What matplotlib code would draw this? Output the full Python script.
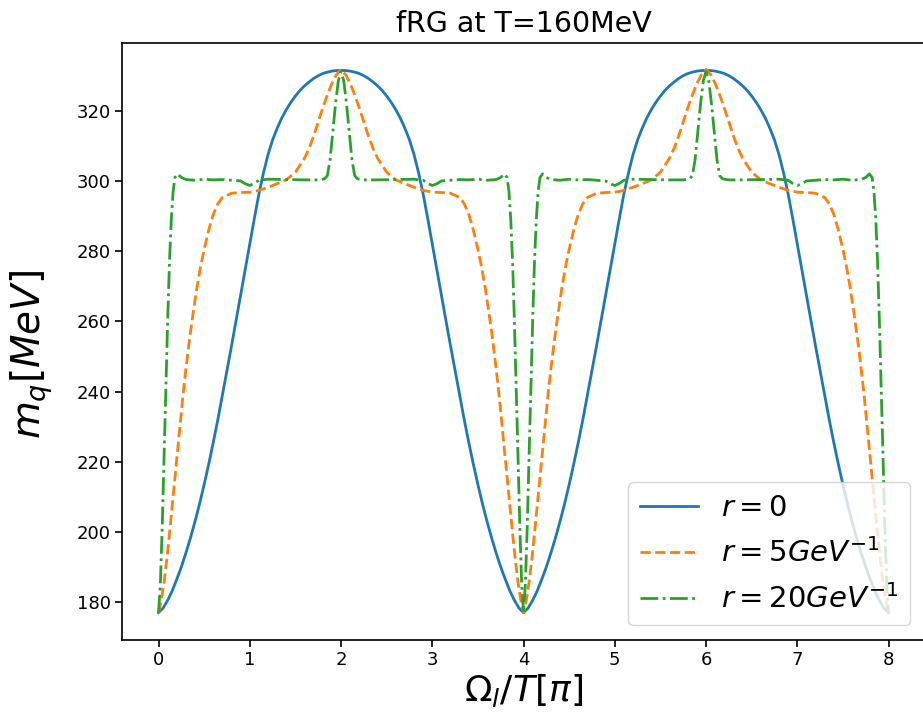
import matplotlib
matplotlib.use('Agg')
import numpy as np
import matplotlib.pyplot as plt

# ---- data ----
# r = 0, sampled every 0.05 on [0, 8]
blue_x = np.linspace(0, 8, 161)
blue_y = [177.0, 178.3, 180.5, 183.2, 186.5, 190.0, 194.0, 198.3, 203.0, 208.0,
          213.5, 219.3, 225.5, 232.0, 239.0, 246.0, 253.0, 260.2, 267.5, 274.8,
          282.0, 289.3, 296.3, 302.3, 307.5, 311.7, 315.0, 317.9, 320.3, 322.4,
          324.2, 325.8, 327.1, 328.2, 329.2, 330.0, 330.6, 331.0, 331.3, 331.45,
          331.5,
          331.45, 331.3, 331.0, 330.6, 330.0, 329.2, 328.2, 327.1, 325.8, 324.2,
          322.4, 320.3, 317.9, 315.0, 311.7, 307.5, 302.3, 296.3, 289.3, 282.0,
          274.8, 267.5, 260.2, 253.0, 246.0, 239.0, 232.0, 225.5, 219.3, 213.5,
          208.0, 203.0, 198.3, 194.0, 190.0, 186.5, 183.2, 180.5, 178.3, 177.0,
          178.3, 180.5, 183.2, 186.5, 190.0, 194.0, 198.3, 203.0, 208.0, 213.5,
          219.3, 225.5, 232.0, 239.0, 246.0, 253.0, 260.2, 267.5, 274.8, 282.0,
          289.3, 296.3, 302.3, 307.5, 311.7, 315.0, 317.9, 320.3, 322.4, 324.2,
          325.8, 327.1, 328.2, 329.2, 330.0, 330.6, 331.0, 331.3, 331.45, 331.5,
          331.45, 331.3, 331.0, 330.6, 330.0, 329.2, 328.2, 327.1, 325.8, 324.2,
          322.4, 320.3, 317.9, 315.0, 311.7, 307.5, 302.3, 296.3, 289.3, 282.0,
          274.8, 267.5, 260.2, 253.0, 246.0, 239.0, 232.0, 225.5, 219.3, 213.5,
          208.0, 203.0, 198.3, 194.0, 190.0, 186.5, 183.2, 180.5, 178.3, 177.0]

# r = 5 GeV^-1
orange_x = [0.0, 0.03, 0.06, 0.09, 0.12, 0.15, 0.18, 0.21, 0.24, 0.27, 0.3, 0.34,
            0.38, 0.42, 0.46, 0.5, 0.55, 0.6, 0.65, 0.7, 0.8, 0.9, 1.0, 1.1, 1.2,
            1.3, 1.4, 1.5, 1.6, 1.65, 1.7, 1.75, 1.8, 1.85, 1.9, 1.95, 2.0,
            2.05, 2.1, 2.15, 2.2, 2.25, 2.3, 2.35, 2.4, 2.5, 2.6, 2.7, 2.8, 2.9,
            3.0, 3.1, 3.2, 3.3, 3.35, 3.4, 3.45, 3.5, 3.54, 3.58, 3.62, 3.66, 3.7,
            3.73, 3.76, 3.79, 3.82, 3.85, 3.88, 3.91, 3.94, 3.97, 4.0,
            4.03, 4.06, 4.09, 4.12, 4.15, 4.18, 4.21, 4.24, 4.27, 4.3, 4.34, 4.38,
            4.42, 4.46, 4.5, 4.55, 4.6, 4.65, 4.7, 4.8, 4.9, 5.0, 5.1, 5.2, 5.3,
            5.4, 5.5, 5.6, 5.65, 5.7, 5.75, 5.8, 5.85, 5.9, 5.95, 6.0,
            6.05, 6.1, 6.15, 6.2, 6.25, 6.3, 6.35, 6.4, 6.5, 6.6, 6.7, 6.8, 6.9,
            7.0, 7.1, 7.2, 7.3, 7.35, 7.4, 7.45, 7.5, 7.54, 7.58, 7.62, 7.66, 7.7,
            7.73, 7.76, 7.79, 7.82, 7.85, 7.88, 7.91, 7.94, 7.97, 8.0]
orange_y = [177, 180.5, 185.5, 192, 199.5, 207.5, 215.5, 223.5, 231.5, 239.5, 246.5,
            255, 262.5, 269.5, 275.5, 280.5, 286, 290.5, 293.5, 295.3, 296.5, 296.7,
            296.8, 297.3, 298.2, 299.2, 300.3, 302.5, 306.5, 309.3, 312.8, 316.8,
            320.8, 324.5, 327.8, 330.3, 331.8,
            330.3, 327.8, 324.5, 320.8, 316.8, 312.8, 309.3, 306.5, 302.5, 300.3,
            299.2, 298.2, 297.3, 296.8, 296.7, 296.5, 295.3, 293.5, 290.5, 286,
            280.5, 275.5, 269.5, 262.5, 255, 246.5, 239.5, 231.5, 223.5, 215.5,
            207.5, 199.5, 192, 185.5, 180.5, 177,
            180.5, 185.5, 192, 199.5, 207.5, 215.5, 223.5, 231.5, 239.5, 246.5,
            255, 262.5, 269.5, 275.5, 280.5, 286, 290.5, 293.5, 295.3, 296.5, 296.7,
            296.8, 297.3, 298.2, 299.2, 300.3, 302.5, 306.5, 309.3, 312.8, 316.8,
            320.8, 324.5, 327.8, 330.3, 331.8,
            330.3, 327.8, 324.5, 320.8, 316.8, 312.8, 309.3, 306.5, 302.5, 300.3,
            299.2, 298.2, 297.3, 296.8, 296.7, 296.5, 295.3, 293.5, 290.5, 286,
            280.5, 275.5, 269.5, 262.5, 255, 246.5, 239.5, 231.5, 223.5, 215.5,
            207.5, 199.5, 192, 185.5, 180.5, 177]

# r = 20 GeV^-1
green_x = [0.0, 0.02, 0.04, 0.06, 0.08, 0.1, 0.12, 0.14, 0.16, 0.18, 0.21, 0.25, 0.3,
           0.4, 0.5, 0.6, 0.7, 0.8, 0.9, 0.95, 1.0, 1.05, 1.1, 1.2, 1.4, 1.6, 1.75,
           1.82, 1.85, 1.88, 1.91, 1.94, 1.97, 2.0,
           2.03, 2.06, 2.09, 2.12, 2.15, 2.18, 2.25, 2.4, 2.6, 2.8, 2.9, 2.95, 3.0,
           3.05, 3.1, 3.2, 3.3, 3.4, 3.5, 3.6, 3.7, 3.75, 3.79, 3.82, 3.84, 3.86,
           3.88, 3.9, 3.92, 3.94, 3.96, 3.98, 4.0,
           4.02, 4.04, 4.06, 4.08, 4.1, 4.12, 4.14, 4.16, 4.18, 4.21, 4.25, 4.3,
           4.4, 4.5, 4.6, 4.7, 4.8, 4.9, 4.95, 5.0, 5.05, 5.1, 5.2, 5.4, 5.6, 5.75,
           5.82, 5.85, 5.88, 5.91, 5.94, 5.97, 6.0,
           6.03, 6.06, 6.09, 6.12, 6.15, 6.18, 6.25, 6.4, 6.6, 6.8, 6.9, 6.95, 7.0,
           7.05, 7.1, 7.2, 7.3, 7.4, 7.5, 7.6, 7.7, 7.75, 7.79, 7.82, 7.84, 7.86,
           7.88, 7.9, 7.92, 7.94, 7.96, 7.98, 8.0]
green_y = [177, 185, 201, 221, 241, 260, 277, 289, 297, 301, 302, 301, 300.4,
           300.2, 300.5, 300.3, 300.4, 300.2, 300.0, 299.2, 298.7, 299.3, 300.2,
           300.5, 300.4, 300.3, 300.3, 300.6, 301.5, 306, 314, 322, 328.5, 331.2,
           328.5, 322, 314, 306, 301.5, 300.6, 300.3, 300.3, 300.4, 300.5, 300.2,
           299.3, 298.7, 299.2, 300.0, 300.2, 300.4, 300.3, 300.5, 300.2, 300.4,
           301, 302, 301, 297, 289, 277, 260, 241, 221, 201, 185, 177,
           185, 201, 221, 241, 260, 277, 289, 297, 301, 302, 301, 300.4,
           300.2, 300.5, 300.3, 300.4, 300.2, 300.0, 299.2, 298.7, 299.3, 300.2,
           300.5, 300.4, 300.3, 300.3, 300.6, 301.5, 306, 314, 322, 328.5, 331.2,
           328.5, 322, 314, 306, 301.5, 300.6, 300.3, 300.3, 300.4, 300.5, 300.2,
           299.3, 298.7, 299.2, 300.0, 300.2, 300.4, 300.3, 300.5, 300.2, 300.4,
           301, 302, 301, 297, 289, 277, 260, 241, 221, 201, 185, 177]

labels = [r'$r=0$', r'$r=5GeV^{-1}$', r'$r=20GeV^{-1}$']
x_ticks = [0, 1, 2, 3, 4, 5, 6, 7, 8]
y_ticks = [180, 200, 220, 240, 260, 280, 300, 320]

fig = plt.figure(figsize=(9.23, 7.23), dpi=100)
ax = fig.add_axes([0.1322, 0.1148, 0.870, 0.8257])

ax.plot(blue_x, blue_y, '-', color='tab:blue', lw=2.0, label=labels[0])
ax.plot(orange_x, orange_y, '--', color='tab:orange', lw=2.0, label=labels[1])
ax.plot(green_x, green_y, '-.', color='tab:green', lw=2.0, label=labels[2])

ax.set_xlim(-0.4, 8.4)
ax.set_ylim(169.2, 339.3)
ax.set_xticks(x_ticks)
ax.set_yticks(y_ticks)
ax.tick_params(labelsize=13, length=5, width=1.2, pad=3)
for s in ax.spines.values():
    s.set_linewidth(1.2)

ax.set_xlabel(r'$\Omega_l/T[\pi]$', fontsize=26, labelpad=2)
ax.set_ylabel(r'$m_q[MeV]$', fontsize=28)
ax.yaxis.set_label_coords(-0.083, 0.478)
ax.set_title('fRG at T=160MeV', fontsize=20.5, pad=8)
ax.legend(loc='lower right', fontsize=21, handlelength=2.0, labelspacing=0.55)

plt.savefig('out.png', dpi=100)
